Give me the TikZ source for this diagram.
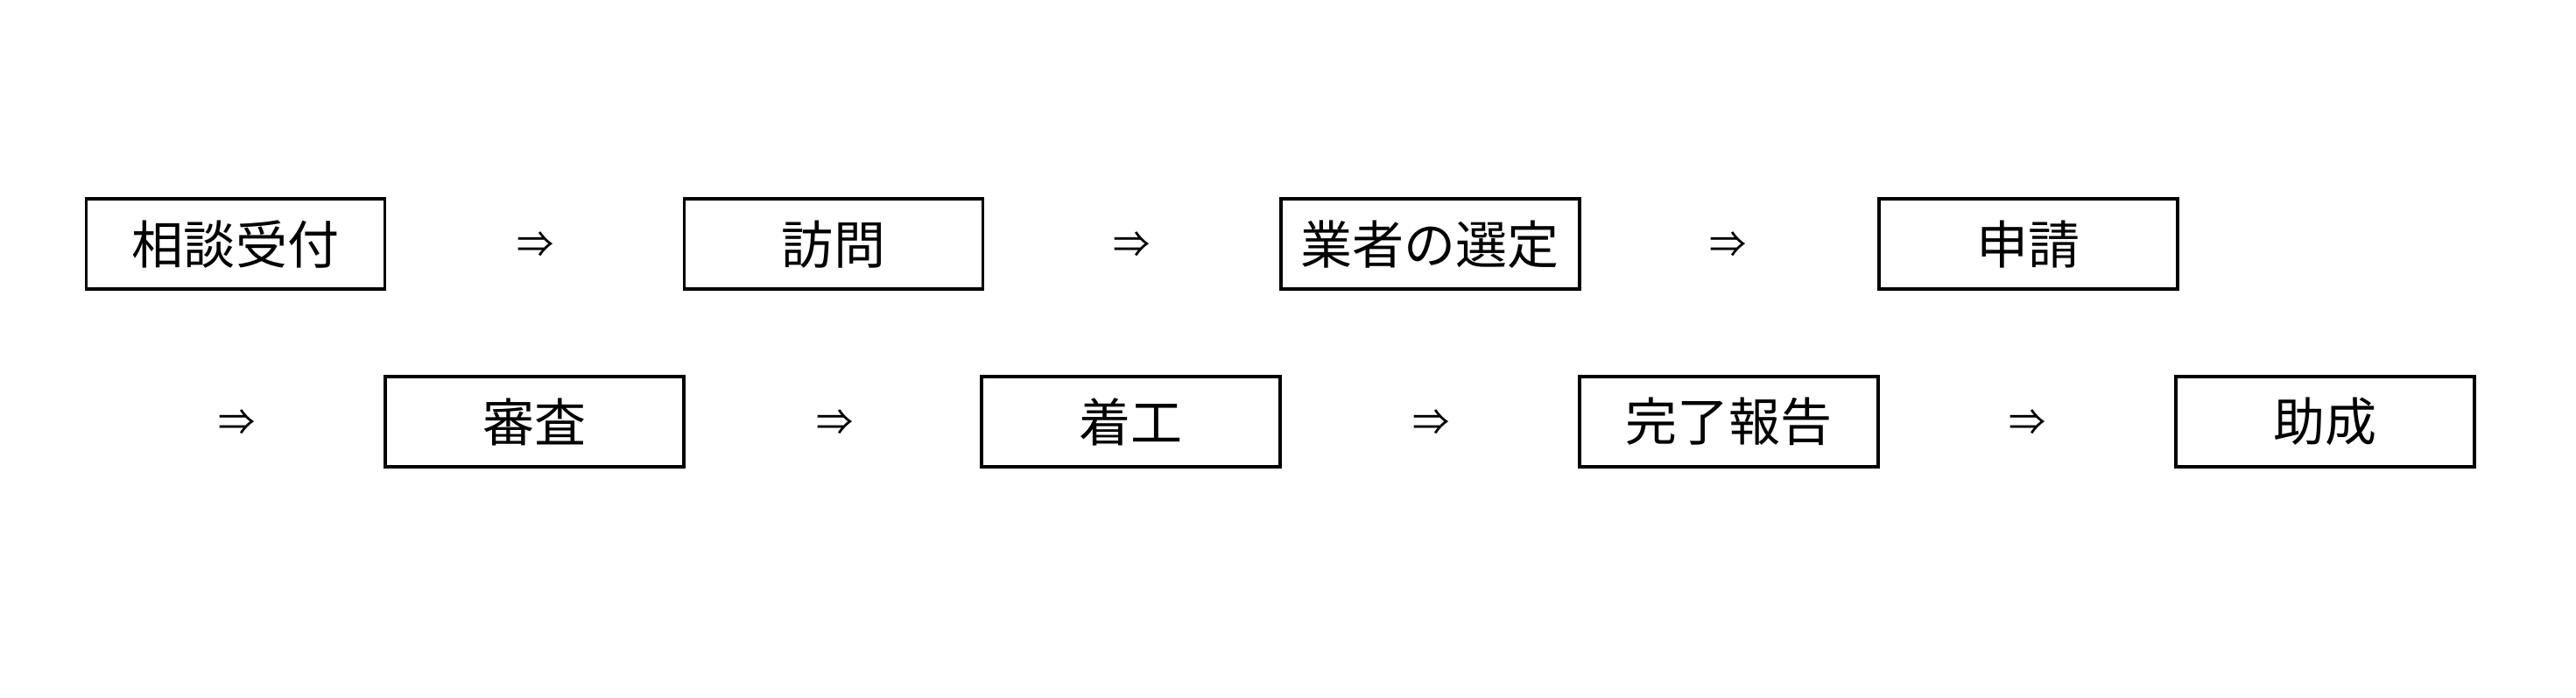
\documentclass[tikz,border=0pt]{standalone}
\usepackage{fontspec}
\newfontfamily\jpfont{Noto Sans CJK JP}
\tikzset{
    stepbox/.style={draw, line width=1.1pt, minimum width=3.41cm, minimum height=1.03cm,
                    inner sep=0pt, font=\jpfont\fontsize{16.8}{20}\selectfont},
    thenmark/.style={inner sep=0pt, font=\jpfont\fontsize{12}{14}\selectfont}
}
\begin{document}
\begin{tikzpicture}

    \useasboundingbox (0,0) rectangle (29.42,7.96);

    % first row
    \node[stepbox]  (soudan)  at (2.690, 5.173) {相談受付};
    \node[thenmark] (then1)   at (6.117, 5.165) {⇒};
    \node[stepbox]  (houmon)  at (9.520, 5.173) {訪問};
    \node[thenmark] (then2)   at (12.928, 5.165) {⇒};
    \node[stepbox]  (sentei)  at (16.331, 5.173) {業者の選定};
    \node[thenmark] (then3)   at (19.739, 5.165) {⇒};
    \node[stepbox]  (shinsei) at (23.161, 5.173) {申請};

    % second row
    \node[thenmark] (then4)   at (2.702, 3.137) {⇒};
    \node[stepbox]  (shinsa)  at (6.105, 3.145) {審査};
    \node[thenmark] (then5)   at (9.532, 3.137) {⇒};
    \node[stepbox]  (chakkou) at (12.916, 3.145) {着工};
    \node[thenmark] (then6)   at (16.343, 3.137) {⇒};
    \node[stepbox]  (kanryou) at (19.746, 3.145) {完了報告};
    \node[thenmark] (then7)   at (23.154, 3.137) {⇒};
    \node[stepbox]  (josei)   at (26.557, 3.145) {助成};

\end{tikzpicture}
\end{document}
